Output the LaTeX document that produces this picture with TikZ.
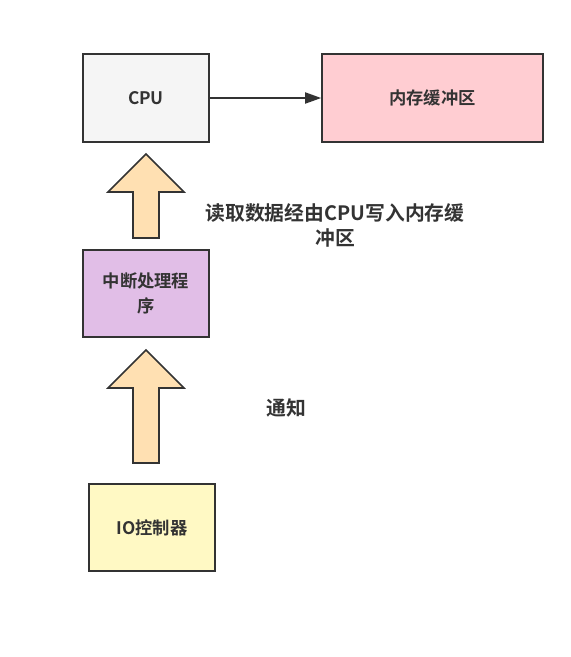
\documentclass[tikz,border=0pt]{standalone}
\usepackage{fontspec}
\setmainfont{Noto Sans CJK SC}[BoldFont={* Bold}]
\usetikzlibrary{arrows.meta}
\definecolor{edge}{HTML}{333333}
\definecolor{cpufill}{HTML}{F5F5F5}
\definecolor{memfill}{HTML}{FFCDD2}
\definecolor{intfill}{HTML}{E1BEE7}
\definecolor{arrfill}{HTML}{FFE0B2}
\definecolor{iofill}{HTML}{FFF9C4}
\tikzset{
  box/.style={draw=edge, line width=1.6pt, inner sep=0pt, font=\fontsize{17.3}{24.5}\selectfont\bfseries, text=edge, align=center},
  lbl/.style={font=\fontsize{19.8}{25}\selectfont\bfseries, text=edge, align=center},
  blockarrow/.style={draw=edge, fill=arrfill, line width=1.6pt, line join=miter},
}
\begin{document}
\begin{tikzpicture}[x=1pt,y=-1pt]
\useasboundingbox (0,0) rectangle (571,657);
\node[box, fill=cpufill, minimum width=126pt, minimum height=88pt] (cpu) at (146,98) {CPU};
\node[box, fill=memfill, minimum width=221pt, minimum height=88pt] (mem) at (432.5,98) {内存缓冲区};
\node[box, fill=intfill, minimum width=126pt, minimum height=87pt] (int) at (146,293.5) {中断处理程\\序};
\node[box, fill=iofill, minimum width=126pt, minimum height=87pt] (io) at (152,527.5) {IO控制器};
\draw[edge, line width=1.8pt, -{Triangle[length=16pt,width=11pt]}] (cpu.east) -- (mem.west);
% block arrows
\draw[blockarrow] (133,238) -- (133,192) -- (108,192) -- (146,154) -- (184,192) -- (159,192) -- (159,238) -- cycle;
\draw[blockarrow] (133,463) -- (133,388) -- (108,388) -- (146,350) -- (184,388) -- (159,388) -- (159,463) -- cycle;
\node[lbl] (t1) at (335,225.5) {读取数据经由CPU写入内存缓\\冲区};
\node[lbl] (t2) at (286,408) {通知};
\end{tikzpicture}
\end{document}
